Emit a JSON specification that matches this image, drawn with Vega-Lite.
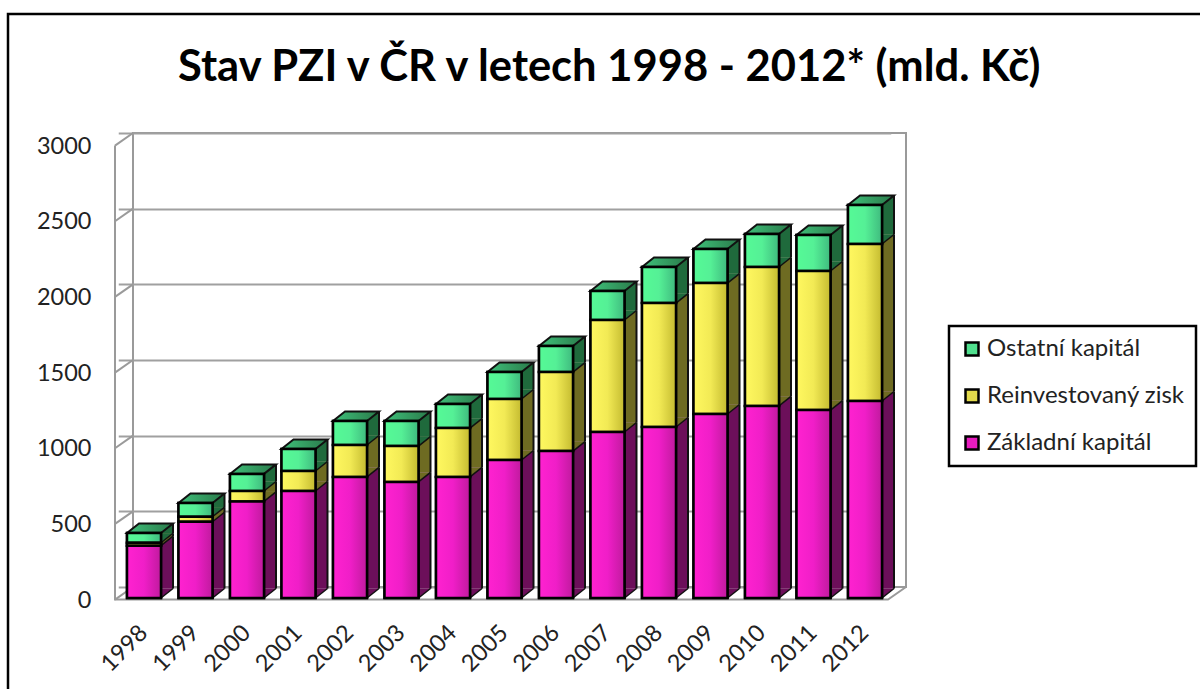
{
"$schema":"https://vega.github.io/schema/vega-lite/v6.json",
"autosize":{"type":"none"},
"padding":{"left":133,"top":133,"right":294,"bottom":102},
"width":773,"height":454,
"background":"white",
"config":{"legend":{"strokeWidth":2.5}},
"view":{"stroke":"#9a9a9a","strokeWidth":2,"fill":"white"},
"title":{"text":"Stav PZI v ČR v letech 1998 - 2012* (mld. Kč)","anchor":"start","frame":"group","dx":45,"offset":-81,"font":"Lato","fontSize":43.5,"fontWeight":"bold","color":"black"},
"data":{"values":[
{"rok":"1998","typ":"Základní kapitál","hodnota":346},{"rok":"1998","typ":"Reinvestovaný zisk","hodnota":19},{"rok":"1998","typ":"Ostatní kapitál","hodnota":65},
{"rok":"1999","typ":"Základní kapitál","hodnota":504},{"rok":"1999","typ":"Reinvestovaný zisk","hodnota":33},{"rok":"1999","typ":"Ostatní kapitál","hodnota":91},
{"rok":"2000","typ":"Základní kapitál","hodnota":638},{"rok":"2000","typ":"Reinvestovaný zisk","hodnota":69},{"rok":"2000","typ":"Ostatní kapitál","hodnota":113},
{"rok":"2001","typ":"Základní kapitál","hodnota":707},{"rok":"2001","typ":"Reinvestovaný zisk","hodnota":132},{"rok":"2001","typ":"Ostatní kapitál","hodnota":146},
{"rok":"2002","typ":"Základní kapitál","hodnota":800},{"rok":"2002","typ":"Reinvestovaný zisk","hodnota":211},{"rok":"2002","typ":"Ostatní kapitál","hodnota":159},
{"rok":"2003","typ":"Základní kapitál","hodnota":767},{"rok":"2003","typ":"Reinvestovaný zisk","hodnota":237},{"rok":"2003","typ":"Ostatní kapitál","hodnota":166},
{"rok":"2004","typ":"Základní kapitál","hodnota":800},{"rok":"2004","typ":"Reinvestovaný zisk","hodnota":323},{"rok":"2004","typ":"Ostatní kapitál","hodnota":159},
{"rok":"2005","typ":"Základní kapitál","hodnota":912},{"rok":"2005","typ":"Reinvestovaný zisk","hodnota":403},{"rok":"2005","typ":"Ostatní kapitál","hodnota":178},
{"rok":"2006","typ":"Základní kapitál","hodnota":971},{"rok":"2006","typ":"Reinvestovaný zisk","hodnota":522},{"rok":"2006","typ":"Ostatní kapitál","hodnota":172},
{"rok":"2007","typ":"Základní kapitál","hodnota":1097},{"rok":"2007","typ":"Reinvestovaný zisk","hodnota":740},{"rok":"2007","typ":"Ostatní kapitál","hodnota":192},
{"rok":"2008","typ":"Základní kapitál","hodnota":1130},{"rok":"2008","typ":"Reinvestovaný zisk","hodnota":819},{"rok":"2008","typ":"Ostatní kapitál","hodnota":238},
{"rok":"2009","typ":"Základní kapitál","hodnota":1216},{"rok":"2009","typ":"Reinvestovaný zisk","hodnota":865},{"rok":"2009","typ":"Ostatní kapitál","hodnota":225},
{"rok":"2010","typ":"Základní kapitál","hodnota":1269},{"rok":"2010","typ":"Reinvestovaný zisk","hodnota":918},{"rok":"2010","typ":"Ostatní kapitál","hodnota":218},
{"rok":"2011","typ":"Základní kapitál","hodnota":1242},{"rok":"2011","typ":"Reinvestovaný zisk","hodnota":919},{"rok":"2011","typ":"Ostatní kapitál","hodnota":238},
{"rok":"2012","typ":"Základní kapitál","hodnota":1302},{"rok":"2012","typ":"Reinvestovaný zisk","hodnota":1037},{"rok":"2012","typ":"Ostatní kapitál","hodnota":258}
]},
"transform":[{"stack":"hodnota","groupby":["rok"],"sort":[{"field":"typ","order":"descending"}],"as":["y0","y1"]}],
"encoding":{
"x":{"field":"rok","type":"nominal","title":null,"scale":{"range":[-14.75,757.75],"paddingInner":0.34,"paddingOuter":0.17},
"axis":{"domain":false,"ticks":false,"grid":false,"labelAngle":-45,"labelAlign":"right","labelBaseline":"middle","labelPadding":42,"labelFont":"Lato","labelFontSize":23.5,"labelColor":"#222222","labelOverlap":false}},
"y":{"field":"y0","type":"quantitative","title":null,"scale":{"domain":[0,3000],"nice":false},
"axis":{"values":[0,500,1000,1500,2000,2500,3000],"format":"d","domain":false,"ticks":false,"grid":true,"gridColor":"#a0a0a0","gridWidth":2,"offset":18,"labelPadding":24,"labelOffset":13,"labelFont":"Lato","labelFontSize":23.5,"labelColor":"#222222"}}
},
"layer":[
{"data":{"values":[{"t":0},{"t":500},{"t":1000},{"t":1500},{"t":2000},{"t":2500},{"t":3000}]},
 "mark":{"type":"point","shape":"M-11,0L-29,12.6","size":4,"filled":false,"stroke":"#9a9a9a","strokeWidth":2,"opacity":1},
 "encoding":{"x":{"datum":"1998","type":"nominal"},"y":{"field":"t","type":"quantitative"}}},
{"data":{"values":[{"t":0}]},
 "mark":{"type":"point","shape":"M-29,-441.4V12.6H744L762,0","size":4,"filled":false,"stroke":"#9a9a9a","strokeWidth":2,"opacity":1},
 "encoding":{"x":{"datum":"1998","type":"nominal"},"y":{"field":"t","type":"quantitative"}}},
{"data":{"values":[{"t":3000}]},
 "mark":{"type":"point","shape":"M-136,556V-119H1056","size":4,"filled":false,"stroke":"black","strokeWidth":2.5,"opacity":1},
 "encoding":{"x":{"datum":"1998","type":"nominal"},"y":{"field":"t","type":"quantitative"}}},
{"mark":{"type":"bar","width":12,"xOffset":23,"yOffset":1.5,"y2Offset":1.5},
 "encoding":{"y2":{"field":"y1"},"fill":{"field":"typ","type":"nominal","legend":null,"scale":{"domain":["Základní kapitál","Reinvestovaný zisk","Ostatní kapitál"],"range":["#6c0f5a","#6e6b22","#1f6a3c"]}}}},
{"mark":{"type":"point","shape":"M17,11V1.5H29Z","size":4,"filled":true,"opacity":1},
 "encoding":{"fill":{"field":"typ","type":"nominal","legend":null}}},
{"mark":{"type":"point","shape":"M17,11L29,1.5","size":4,"filled":false,"stroke":"#111111","strokeWidth":1.5,"opacity":1},
 "encoding":{}},
{"mark":{"type":"rule","xOffset":29,"yOffset":1.5,"y2Offset":1.5,"stroke":"#111111","strokeWidth":2},
 "encoding":{"y2":{"field":"y1"}}},
{"transform":[{"filter":"datum.typ === 'Ostatní kapitál'"}],
 "mark":{"type":"point","shape":"M-17,11H17L29,1.5H-5Z","size":4,"filled":true,"fill":{"x1":0,"y1":0,"x2":1,"y2":0,"gradient":"linear","stops":[{"offset":0,"color":"#3fc07a"},{"offset":1,"color":"#2a7a4a"}]},"stroke":"#111111","strokeWidth":2,"opacity":1},
 "encoding":{"y":{"field":"y1","type":"quantitative"}}},
{"mark":{"type":"bar","yOffset":11,"y2Offset":11,"stroke":"black","strokeWidth":2.5},
 "encoding":{"y2":{"field":"y1"},"color":{"field":"typ","type":"nominal",
  "scale":{"domain":["Ostatní kapitál","Reinvestovaný zisk","Základní kapitál"],"range":["#50e08e","#e2da4c","#e81cc0"]},
  "legend":{"title":null,"orient":"none","legendX":816,"legendY":193,"fillColor":"white","strokeColor":"black","padding":11,"symbolType":"square","symbolSize":169,"symbolStrokeColor":"black","symbolStrokeWidth":2.5,"labelFont":"Lato","labelFontSize":24,"labelColor":"#222222","labelLimit":300,"rowPadding":23,"labelOffset":3}}}},
{"transform":[{"filter":"datum.typ === 'Ostatní kapitál'"}],
 "mark":{"type":"bar","yOffset":11,"y2Offset":11,"stroke":"black","strokeWidth":2.5,"fill":{"gradient":"linear","x1":0,"y1":0,"x2":1,"y2":0,"stops":[{"offset":0,"color":"#55fa96"},{"offset":0.5,"color":"#55f096"},{"offset":1,"color":"#3fba7e"}]}},
 "encoding":{"y2":{"field":"y1"}}},
{"transform":[{"filter":"datum.typ === 'Reinvestovaný zisk'"}],
 "mark":{"type":"bar","yOffset":11,"y2Offset":11,"stroke":"black","strokeWidth":2.5,"fill":{"gradient":"linear","x1":0,"y1":0,"x2":1,"y2":0,"stops":[{"offset":0,"color":"#fff860"},{"offset":0.5,"color":"#f2ea55"},{"offset":1,"color":"#c4bb30"}]}},
 "encoding":{"y2":{"field":"y1"}}},
{"transform":[{"filter":"datum.typ === 'Základní kapitál'"}],
 "mark":{"type":"bar","yOffset":11,"y2Offset":11,"stroke":"black","strokeWidth":2.5,"fill":{"gradient":"linear","x1":0,"y1":0,"x2":1,"y2":0,"stops":[{"offset":0,"color":"#ff22d0"},{"offset":0.5,"color":"#f01ec8"},{"offset":1,"color":"#c01a9e"}]}},
 "encoding":{"y2":{"field":"y1"}}}
]
}
